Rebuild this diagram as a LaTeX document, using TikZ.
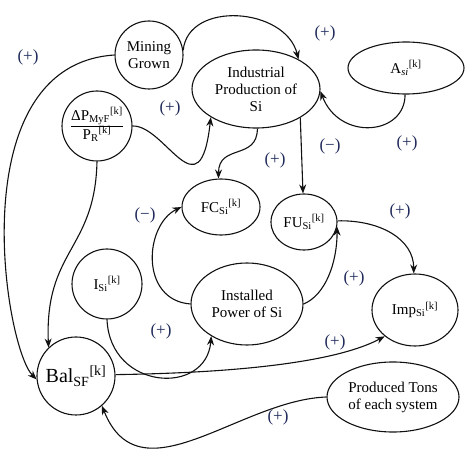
\documentclass[tikz,border=0pt]{standalone}
\usepackage{fontspec}
\setmainfont{Liberation Serif}
\usetikzlibrary{shapes.geometric,arrows.meta}
\definecolor{loopink}{HTML}{111111}
\definecolor{signink}{HTML}{1F2A5A}
\newcommand{\subsup}[2]{\textsubscript{#1}\textsuperscript{#2}}
\newcommand{\signmark}[3]{\node[sign] (#1) at (#2) {#3};}

\begin{document}
\begin{tikzpicture}[x=1pt, y=-1pt, line width=1.1pt,
  >={Stealth[length=9pt,width=7pt]},
  every node/.style={font=\fontsize{15}{17}\selectfont, inner sep=0pt, align=center},
  varcirc/.style={draw=loopink, circle},
  varoval/.style={draw=loopink, ellipse},
  sign/.style={signink, font=\fontsize{17}{19}\selectfont},
  link/.style={->, loopink}]

  \useasboundingbox (0,0) rectangle (472,457);

  % variables
  \node[varcirc, minimum size=68pt] (mining) at (149,55) {Mining\\Grown};
  \node[varoval, minimum width=128pt, minimum height=78pt] (indprod) at (256,89) {Industrial\\Production of\\Si};
  \node[varoval, minimum width=116pt, minimum height=52pt] (asi) at (406,68) {A\subsup{\textit{si}}{[k]}};
  \node[varcirc, minimum size=70pt] (dpratio) at (97,126)
    {\begin{tabular}{@{}c@{}}ΔP\subsup{MyF}{[k]}\\[1pt]\hline P\subsup{R}{[k]}\end{tabular}};
  \node[varoval, minimum width=78pt, minimum height=56pt] (fcsi) at (221,207) {FC\subsup{Si}{[k]}};
  \node[varoval, minimum width=66pt, minimum height=56pt] (fusi) at (304,222) {FU\subsup{Si}{[k]}};
  \node[varcirc, minimum size=70pt] (isi) at (107,284) {I\subsup{Si}{[k]}};
  \node[varoval, minimum width=112pt, minimum height=82pt] (instpow) at (247,304) {Installed\\Power of Si};
  \node[varoval, minimum width=86pt, minimum height=72pt] (impsi) at (415,310) {Imp\subsup{Si}{[k]}};
  \node[varcirc, minimum size=78pt, font=\fontsize{20}{22}\selectfont] (balsf) at (76,376) {Bal\subsup{SF}{[k]}};
  \node[varoval, minimum width=132pt, minimum height=70pt] (prodtons) at (393,397) {Produced Tons\\of each system};

  % causal links
  \draw[link] (mining.8) .. controls +(5,-50) and +(-13,-52) .. (indprod.35);
  \draw[link] (mining.180) .. controls +(-155,10) and +(-32,-32) .. (balsf.185);
  \draw[link] (dpratio.0) .. controls +(33,-1) and +(-11,98) .. (indprod.212);
  \draw[link] (dpratio.270) .. controls +(-2,89) and +(-4,-98) .. (balsf.134);
  \draw[link] (indprod.272) .. controls +(0,32) and +(0,-35) .. (fcsi.95);
  \draw[link] (indprod.327) -- (fusi.92);
  \draw[link] (asi.268) .. controls +(0,41) and +(19,50) .. (indprod.358);
  \draw[link] (instpow.180) .. controls +(-51,-4) and +(-37,18) .. (fcsi.180);
  \draw[link] (instpow.0) .. controls +(22,-9) and +(0,36) .. (fusi.352);
  \draw[link] (fusi.2) .. controls +(43,-1) and +(0,-34) .. (impsi.92);
  \draw[link] (isi.270) .. controls +(3,71) and +(-5,60) .. (instpow.222);
  \draw[link] (balsf.2) .. controls +(135,-2) and +(-45,24) .. (impsi.221);
  \draw[link] (prodtons.180) .. controls +(-87,3) and +(38,95) .. (balsf.311);

  % polarities
  \signmark{sgnminebal}{28,57}{(+)}
  \signmark{sgnmineind}{325,33}{(+)}
  \signmark{sgnratioind}{170,108}{(+)}
  \signmark{sgnindfc}{275,160}{(+)}
  \signmark{sgnindfu}{330,146}{(−)}
  \signmark{sgnasi}{407,143}{(+)}
  \signmark{sgnpowfc}{145,215}{(−)}
  \signmark{sgnfuimp}{400,211}{(+)}
  \signmark{sgnpowfu}{354,278}{(+)}
  \signmark{sgnisipow}{161,331}{(+)}
  \signmark{sgnbalimp}{335,342}{(+)}
  \signmark{sgntonsbal}{278,417}{(+)}

\end{tikzpicture}
\end{document}
